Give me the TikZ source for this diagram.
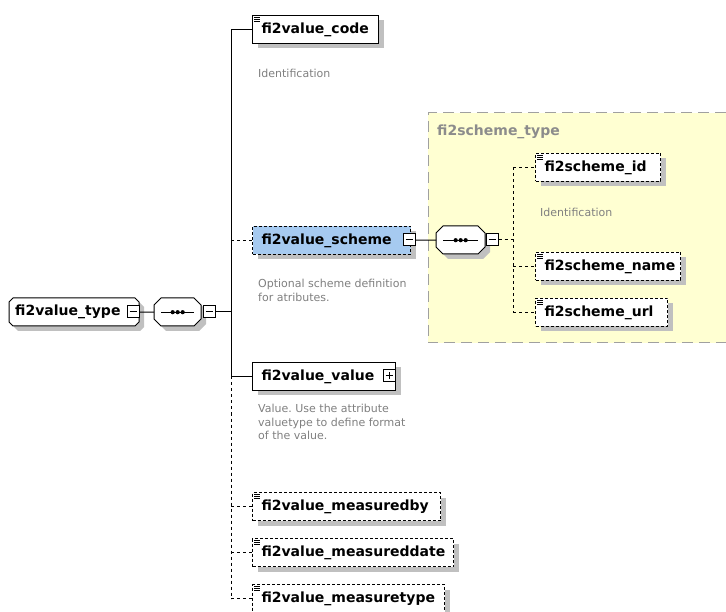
\documentclass[tikz,border=0pt]{standalone}
\usepackage{fontspec}
\setmainfont{DejaVu Sans}
\usetikzlibrary{shadows}
\frenchspacing
\definecolor{shadowgrey}{RGB}{192,192,192}
\definecolor{descgrey}{RGB}{128,128,128}
\definecolor{typegrey}{RGB}{140,140,140}
\definecolor{selblue}{RGB}{166,202,240}
\definecolor{yellowbg}{RGB}{255,255,210}
\definecolor{yellowline}{RGB}{160,160,160}
\newcommand\lab[2]{\makebox[#1pt][l]{\hspace{9pt}#2}}
% chamfered box with shadow: x1 y1 x2 y2 chamfer
\newcommand\chbox[5]{%
  \fill[shadowgrey] ({#1+#5+5},{#2+5}) -- ({#3-#5+5},{#2+5}) -- ({#3+5},{#2+#5+5}) -- ({#3+5},{#4-#5+5}) -- ({#3-#5+5},{#4+5}) -- ({#1+#5+5},{#4+5}) -- ({#1+5},{#4-#5+5}) -- ({#1+5},{#2+#5+5}) -- cycle;
  \draw[line width=1pt,fill=white] ({#1+#5},#2) -- ({#3-#5},#2) -- (#3,{#2+#5}) -- (#3,{#4-#5}) -- ({#3-#5},#4) -- ({#1+#5},#4) -- (#1,{#4-#5}) -- (#1,{#2+#5}) -- cycle;}
\newcommand\icon[1]{%
  \draw[line width=0.8pt] ([xshift=2pt,yshift=-2.5pt]#1.north west) -- ++(6,0);
  \draw[line width=0.8pt] ([xshift=2pt,yshift=-4.5pt]#1.north west) -- ++(6,0);
  \draw[line width=0.8pt] ([xshift=2pt,yshift=-6.5pt]#1.north west) -- ++(6,0);}
\tikzset{
  elem/.style={draw, fill=white, line width=1pt, anchor=north west, minimum height=28pt,
    inner xsep=0pt, inner ysep=0pt, font=\fontsize{14}{16}\selectfont\bfseries,
    drop shadow={shadow xshift=5pt,shadow yshift=-5pt,fill=shadowgrey,opacity=1}},
  opt/.style={dash pattern=on 3pt off 2pt},
  optline/.style={line width=1pt, dash pattern=on 3pt off 3pt},
  solidline/.style={line width=1pt},
  btnbox/.style={draw, fill=white, line width=1pt, minimum size=12pt, inner sep=0pt},
  minusbtn/.style={btnbox, path picture={\draw[line width=1pt] ([xshift=2.5pt]path picture bounding box.west) -- ([xshift=-2.5pt]path picture bounding box.east);}},
  plusbtn/.style={btnbox, path picture={\draw[line width=1pt] ([xshift=2.5pt]path picture bounding box.west) -- ([xshift=-2.5pt]path picture bounding box.east); \draw[line width=1pt] ([yshift=-2.5pt]path picture bounding box.north) -- ([yshift=2.5pt]path picture bounding box.south);}},
  anchorbox/.style={inner sep=0pt, anchor=north west},
  desc/.style={inner sep=0pt, font=\fontsize{11}{13.5}\selectfont, text=descgrey, align=left},
  dot/.style={fill=black}
}
\begin{document}
\begin{tikzpicture}[x=1pt,y=-1pt]
\useasboundingbox (0,0) rectangle (726,612);
\fill[white] (0,0) rectangle (726,612);

% yellow complex type area
\fill[yellowbg] (428,113) rectangle (726,343);
\draw[yellowline, line width=1pt, dash pattern=on 11pt off 6pt] (726,113) -- (428,113) -- (428,343) -- (726,343);
\node[anchor=west, inner sep=0pt, font=\fontsize{14}{16}\selectfont\bfseries, text=typegrey] (schemetype) at (437,132) {fi2scheme\_type};

% root type
\chbox{9}{298}{139}{326}{4}
\node[anchor=west, inner sep=0pt, font=\fontsize{14}{16}\selectfont\bfseries] (type) at (15,312) {fi2value\_type};
\node[minusbtn] (typebtn) at (133,312) {};

% sequence 1
\chbox{154}{298}{201}{326}{7}
\node[anchorbox, minimum width=47pt, minimum height=28pt] (seq1) at (154,298) {};
\draw[line width=1pt] ([xshift=7pt]seq1.west) -- ([xshift=-7pt]seq1.east);
\fill[dot] (seq1.center) circle (2.1);
\fill[dot] ([xshift=-5pt]seq1.center) circle (2.1);
\fill[dot] ([xshift=5pt]seq1.center) circle (2.1);
\node[minusbtn] (seq1btn) at (209,312) {};

% children
\node[elem] (code) at (252,15) {\lab{126}{fi2value\_code}};
\node[elem, opt, fill=selblue] (scheme) at (252,226) {\lab{158}{fi2value\_scheme}};
\node[elem] (value) at (252,362) {\lab{143}{fi2value\_value}};
\node[elem, opt] (mby) at (252,492) {\lab{188}{fi2value\_measuredby}};
\node[elem, opt] (mdate) at (252,538) {\lab{201}{fi2value\_measureddate}};
\node[elem, opt] (mtype) at (252,584) {\lab{192}{fi2value\_measuretype}};
\icon{code}\icon{mby}\icon{mdate}\icon{mtype}
\node[minusbtn] (schemebtn) at (409,240) {};
\node[plusbtn] (valuebtn) at (389,376) {};

% descriptions
\node[desc, anchor=west] (d1) at (258,73) {Identification};
\node[desc, anchor=north west] (d2) at (258,279) {Optional scheme definition\\for atributes.};
\node[desc, anchor=north west] (d3) at (258,404) {Value. Use the attribute\\valuetype to define format\\of the value.};

% sequence 2
\chbox{436}{226}{485}{254}{7}
\node[anchorbox, minimum width=49pt, minimum height=28pt] (seq2) at (436,226) {};
\draw[line width=1pt] ([xshift=7pt]seq2.west) -- ([xshift=-7pt]seq2.east);
\fill[dot] (seq2.center) circle (2.1);
\fill[dot] ([xshift=-5pt]seq2.center) circle (2.1);
\fill[dot] ([xshift=5pt]seq2.center) circle (2.1);
\node[minusbtn] (seq2btn) at (492,240) {};

% scheme children
\node[elem, opt] (sid) at (535,153) {\lab{125}{fi2scheme\_id}};
\node[elem, opt] (sname) at (535,252) {\lab{145}{fi2scheme\_name}};
\node[elem, opt] (surl) at (535,298) {\lab{132}{fi2scheme\_url}};
\icon{sid}\icon{sname}\icon{surl}
\node[desc, anchor=west] (d4) at (540,212) {Identification};

% connectors
\coordinate (spine) at (231,0);
\coordinate (spine2) at (513,0);
\draw[solidline] (typebtn.east) -- (seq1.west);
\draw[solidline] (seq1btn.east) -- (seq1btn.east -| spine);
\draw[solidline] (code.west -| spine) -- (value.west -| spine);
\draw[optline] (value.west -| spine) -- (mtype.west -| spine);
\draw[solidline] (code.west -| spine) -- (code.west);
\draw[optline] (scheme.west -| spine) -- (scheme.west);
\draw[solidline] (value.west -| spine) -- (value.west);
\draw[optline] (mby.west -| spine) -- (mby.west);
\draw[optline] (mdate.west -| spine) -- (mdate.west);
\draw[optline] (mtype.west -| spine) -- (mtype.west);
\draw[solidline] (schemebtn.east) -- (seq2.west);
\draw[optline] (seq2btn.east) -- (seq2btn.east -| spine2);
\draw[optline] (sid.west -| spine2) -- (surl.west -| spine2);
\draw[optline] (sid.west -| spine2) -- (sid.west);
\draw[optline] (sname.west -| spine2) -- (sname.west);
\draw[optline] (surl.west -| spine2) -- (surl.west);
\end{tikzpicture}
\end{document}
